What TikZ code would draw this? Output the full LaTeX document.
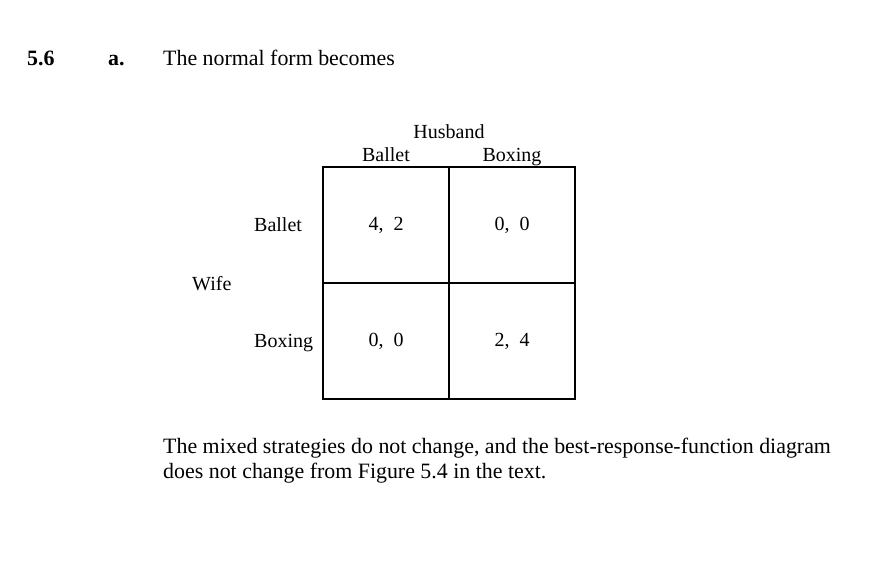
\documentclass[tikz,border=0pt]{standalone}
\usepackage{fontspec}
\setmainfont{Liberation Serif}
\begin{document}
\begin{tikzpicture}[x=1pt,y=-1pt,
  txt/.style={inner sep=0pt,anchor=base west,font=\fontsize{21.9}{26}\selectfont},
  lbl/.style={inner sep=0pt,anchor=base,font=\fontsize{20}{24}\selectfont},
  lblw/.style={inner sep=0pt,anchor=base west,font=\fontsize{20}{24}\selectfont},
  grid/.style={line width=1.8pt}]
\useasboundingbox[fill=white] (0,0) rectangle (888,578);
\node[txt,font=\fontsize{21.9}{26}\selectfont\bfseries] (num) at (27,66) {5.6};
\node[txt,font=\fontsize{21.9}{26}\selectfont\bfseries] (part) at (108,66) {a.};
\node[txt] (intro) at (163,66) {The normal form becomes};
\node[lbl] (husband) at (449,138) {Husband};
\node[lbl] (cballet) at (386,161) {Ballet};
\node[lbl] (cboxing) at (512,161) {Boxing};
\node[lblw] (rballet) at (254,231.5) {Ballet};
\node[lblw] (rboxing) at (254,347) {Boxing};
\node[lblw] (wife) at (192,290) {Wife};
\coordinate (tl) at (323,167);
\coordinate (br) at (575,399);
\coordinate (tm) at (449,167);
\coordinate (bm) at (449,399);
\coordinate (ml) at (323,283);
\coordinate (mr) at (575,283);
\draw[grid] (tl) rectangle (br);
\draw[grid] (tm) -- (bm);
\draw[grid] (ml) -- (mr);
\node[lbl] (c11) at (386,230) {4,\ \ 2};
\node[lbl] (c12) at (512,230) {0,\ \ 0};
\node[lbl] (c21) at (386,346) {0,\ \ 0};
\node[lbl] (c22) at (512,346) {2,\ \ 4};
\node[txt] (l1) at (163,453) {The mixed strategies do not change, and the best-response-function diagram};
\node[txt] (l2) at (163,478) {does not change from Figure 5.4 in the text.};
\end{tikzpicture}
\end{document}
